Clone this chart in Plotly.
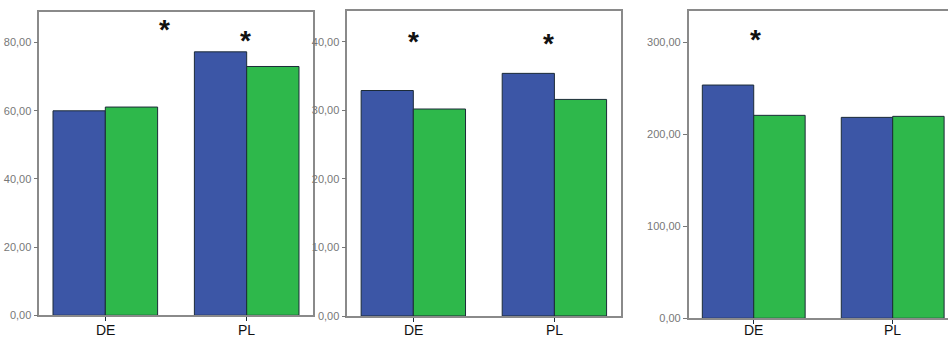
import plotly.graph_objects as go

# Category labels shared by all three panels
categories = ["DE", "PL"]

# Bar heights per panel: first (blue) and second (green) series
panel1_blue = [60.0, 77.3]
panel1_green = [61.1, 73.0]
panel2_blue = [32.9, 35.4]
panel2_green = [30.2, 31.6]
panel3_blue = [253.3, 218.2]
panel3_green = [220.4, 219.3]

# Y tick values and their labels (comma decimal separator)
panel1_ticks = [0, 20, 40, 60, 80]
panel1_ticktext = ["0,00", "20,00", "40,00", "60,00", "80,00"]
panel2_ticks = [0, 10, 20, 30, 40]
panel2_ticktext = ["0,00", "10,00", "20,00", "30,00", "40,00"]
panel3_ticks = [0, 100, 200, 300]
panel3_ticktext = ["0,00", "100,00", "200,00", "300,00"]

# Significance markers: (panel, category position, value)
marker_panel = [1, 1, 2, 2, 3]
marker_x = [0.42, 0.99, 0.0, 0.96, 0.01]
marker_y = [85.1, 81.7, 40.6, 40.3, 306.8]

BLUE = "#3c56a6"
GREEN = "#2eb84b"
EDGE = "#1c2b38"
FRAME = "#8a8a8a"
FONT = "Liberation Sans, Arial, sans-serif"

fig = go.Figure()

panels = [
    (panel1_blue, panel1_green, "x", "y"),
    (panel2_blue, panel2_green, "x2", "y2"),
    (panel3_blue, panel3_green, "x3", "y3"),
]
for blue, green, xa, ya in panels:
    fig.add_trace(go.Bar(x=categories, y=blue, xaxis=xa, yaxis=ya,
                         marker=dict(color=BLUE, line=dict(color=EDGE, width=1)),
                         showlegend=False, hoverinfo="skip"))
    fig.add_trace(go.Bar(x=categories, y=green, xaxis=xa, yaxis=ya,
                         marker=dict(color=GREEN, line=dict(color=EDGE, width=1)),
                         showlegend=False, hoverinfo="skip"))

W, H = 948, 338


def xdom(a, b):
    return [a / W, min(b / W, 1.0)]


def ydom(bottom_px, top_px):
    return [(H - bottom_px) / H, (H - top_px) / H]


# Category tick labels are drawn as annotations (below) so they sit
# tight under the axis inside the short figure.
common_x = dict(
    type="category", showline=True, linecolor=FRAME, linewidth=1.5,
    ticks="outside", ticklen=4, tickcolor=EDGE, tickwidth=1,
    showticklabels=False,
    showgrid=False, zeroline=False, fixedrange=True, automargin=False,
)
common_y = dict(
    showline=True, linecolor=FRAME, linewidth=1.5,
    ticks="outside", ticklen=4, tickcolor="#777777", tickwidth=1,
    showgrid=False, zeroline=False, fixedrange=True, automargin=False,
    tickfont=dict(family=FONT, size=11, color="#777777"),
)

fig.update_layout(
    width=W, height=H,
    margin=dict(l=0, r=0, t=0, b=0),
    paper_bgcolor="white", plot_bgcolor="white",
    barmode="group", bargap=0.26, bargroupgap=0,
    showlegend=False,
    xaxis=dict(common_x, domain=xdom(39.3, 312.7), range=[-0.467, 1.467],
               mirror=True, anchor="y"),
    yaxis=dict(common_y, domain=ydom(315.3, 12.3), range=[0, 88.9],
               tickvals=panel1_ticks, ticktext=panel1_ticktext,
               mirror=True, anchor="x"),
    xaxis2=dict(common_x, domain=xdom(347.3, 620.7), range=[-0.468, 1.47],
                mirror=True, anchor="y2"),
    yaxis2=dict(common_y, domain=ydom(316, 11), range=[0, 44.5],
                tickvals=panel2_ticks, ticktext=panel2_ticktext,
                mirror=True, anchor="x2"),
    xaxis3=dict(common_x, domain=xdom(688.7, 948), range=[-0.468, 1.398],
                mirror=True, anchor="y3"),
    yaxis3=dict(common_y, domain=ydom(318.3, 11), range=[0, 333.7],
                tickvals=panel3_ticks, ticktext=panel3_ticktext,
                mirror=False, anchor="x3"),
)

# Category labels under each panel
for suffix in ["", "2", "3"]:
    for cat in categories:
        fig.add_annotation(x=cat, y=(H - 330) / H, xref="x" + suffix,
                           yref="paper", text=cat, showarrow=False,
                           yanchor="middle",
                           font=dict(family=FONT, size=14, color="#111111"))

for p, mx, my in zip(marker_panel, marker_x, marker_y):
    suffix = "" if p == 1 else str(p)
    fig.add_annotation(x=mx, y=my, xref="x" + suffix, yref="y" + suffix,
                       text="<b>*</b>", showarrow=False, yshift=-4,
                       font=dict(family=FONT, size=28, color="#111111"))

fig.write_html("out.html")
